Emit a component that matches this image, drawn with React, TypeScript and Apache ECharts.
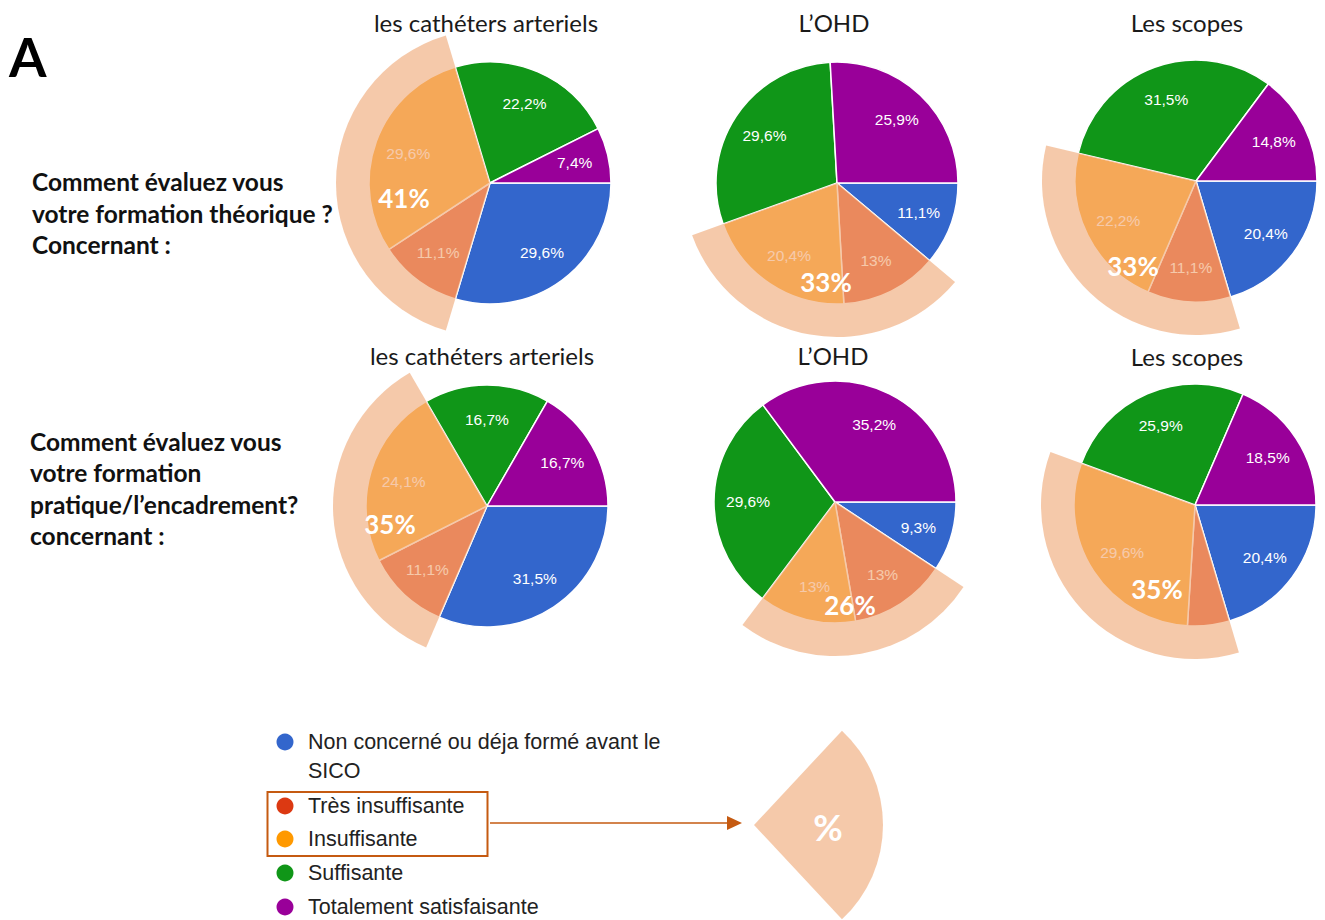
import React, { useEffect, useRef } from "react";
import * as echarts from "echarts";

// ---- Data ----
const categories = [
  "Non concerné ou déja formé avant le SICO",
  "Très insuffisante",
  "Insuffisante",
  "Suffisante",
  "Totalement satisfaisante",
];
const pieTitles = ["les cathéters arteriels", "L’OHD", "Les scopes"];
const questionTheorique = ["Comment évaluez vous", "votre formation théorique ?", "Concernant :"];
const questionPratique = ["Comment évaluez vous", "votre formation", "pratique/l’encadrement?", "concernant :"];

// values in % : [Non concerné, Très insuffisante, Insuffisante, Suffisante, Totalement satisfaisante]
const theoriqueCatheters = [29.6, 11.1, 29.6, 22.2, 7.4];
const theoriqueOHD = [11.1, 13, 20.4, 29.6, 25.9];
const theoriqueScopes = [20.4, 11.1, 22.2, 31.5, 14.8];
const pratiqueCatheters = [31.5, 11.1, 24.1, 16.7, 16.7];
const pratiqueOHD = [9.3, 13, 13, 29.6, 35.2];
const pratiqueScopes = [20.4, 5.6, 29.6, 25.9, 18.5];

// ---- Styles / layout ----
const colors = ["#3366CC", "#DC3912", "#FF9900", "#109618", "#990099"];
const OVERLAY = "rgba(240,175,130,0.68)";
const ACCENT = "#C55A11";
const HEAD_FONT = "Lato, 'Open Sans', sans-serif";
const CHART_FONT = "'Liberation Sans', Arial, sans-serif";

const pieLayout = [
  { values: theoriqueCatheters, center: [490, 183], title: [486, 22], big: [-86, 15] },
  { values: theoriqueOHD, center: [837, 183], title: [834, 22], big: [-11, 99] },
  { values: theoriqueScopes, center: [1196, 181], title: [1187, 22], big: [-63, 85] },
  { values: pratiqueCatheters, center: [487, 506], title: [482, 355], big: [-97, 18] },
  { values: pratiqueOHD, center: [835, 502], title: [833, 355], big: [15, 103] },
  { values: pratiqueScopes, center: [1195, 505], title: [1187, 356], big: [-38, 84] },
];
const R = 121;
const R_BAND = 154;
const LABEL_R0 = 47;

const fmt = (v: number) => String(v).replace(".", ",") + "%";

export default function App() {
  const ref = useRef<HTMLDivElement>(null);

  useEffect(() => {
    if (!ref.current) return;
    const chart = echarts.init(ref.current, null, { renderer: "svg" });

    const series: any[] = [];
    const graphics: any[] = [];

    pieLayout.forEach((p, i) => {
      const vals = p.values;
      // base pie
      series.push({
        type: "pie",
        name: "base" + i,
        silent: true,
        z: 1,
        center: p.center,
        radius: [0, R],
        startAngle: 0,
        clockwise: true,
        avoidLabelOverlap: false,
        label: { show: false },
        labelLine: { show: false },
        itemStyle: { borderColor: "#ffffff", borderWidth: 1.5 },
        emphasis: { disabled: true },
        data: vals.map((v, k) => ({ name: categories[k], value: v, itemStyle: { color: colors[k] } })),
      });
      // labels pie (transparent)
      series.push({
        type: "pie",
        name: "labels" + i,
        silent: true,
        z: 2,
        center: p.center,
        radius: [LABEL_R0, R],
        startAngle: 0,
        clockwise: true,
        avoidLabelOverlap: false,
        labelLine: { show: false },
        itemStyle: { color: "rgba(0,0,0,0)", borderWidth: 0 },
        emphasis: { disabled: true },
        data: vals.map((v, k) => ({
          name: categories[k],
          value: v,
          label: {
            show: v >= 6,
            position: "inside",
            formatter: () => fmt(v),
            color: "#ffffff",
            fontSize: 15.5,
            fontFamily: CHART_FONT,
          },
        })),
      });
      // overlay highlighting insufficient answers
      const insuff = vals[1] + vals[2];
      series.push({
        type: "pie",
        name: "overlay" + i,
        silent: true,
        z: 3,
        center: p.center,
        radius: [0, R_BAND],
        startAngle: 0,
        clockwise: true,
        avoidLabelOverlap: false,
        label: { show: false },
        labelLine: { show: false },
        emphasis: { disabled: true },
        data: [
          { name: "avant", value: vals[0], itemStyle: { color: "rgba(0,0,0,0)" } },
          { name: "insuffisant", value: insuff, itemStyle: { color: OVERLAY } },
          { name: "après", value: vals[3] + vals[4], itemStyle: { color: "rgba(0,0,0,0)" } },
        ],
      });
      graphics.push({
        type: "text",
        z: 10,
        x: p.center[0] + p.big[0],
        y: p.center[1] + p.big[1],
        style: {
          text: Math.round(insuff) + "%",
          fill: "#ffffff",
          font: `bold 26px ${HEAD_FONT}`,
          align: "center",
          verticalAlign: "middle",
        },
      });
      graphics.push({
        type: "text",
        z: 10,
        x: p.title[0],
        y: p.title[1],
        style: {
          text: pieTitles[i % 3],
          fill: "#1a1a1a",
          font: `24px ${HEAD_FONT}`,
          align: "center",
          verticalAlign: "middle",
        },
      });
    });

    // panel letter
    graphics.push({
      type: "text",
      x: 9,
      y: 56,
      style: { text: "A", fill: "#000", font: `bold 54px ${HEAD_FONT}`, align: "left", verticalAlign: "middle" },
    });
    // questions
    const qTop = [181, 213, 244];
    questionTheorique.forEach((t, k) =>
      graphics.push({
        type: "text",
        x: 32,
        y: qTop[k],
        style: { text: t, fill: "#111", font: `bold 24.5px ${HEAD_FONT}`, align: "left", verticalAlign: "middle" },
      })
    );
    const qBot = [441, 472, 504, 535];
    questionPratique.forEach((t, k) =>
      graphics.push({
        type: "text",
        x: 30,
        y: qBot[k],
        style: { text: t, fill: "#111", font: `bold 24.5px ${HEAD_FONT}`, align: "left", verticalAlign: "middle" },
      })
    );

    // legend
    const legendY = [742, 806, 839, 873, 907];
    categories.forEach((c, k) => {
      graphics.push({
        type: "circle",
        shape: { cx: 285, cy: legendY[k], r: 8.5 },
        style: { fill: colors[k] },
      });
      graphics.push({
        type: "text",
        x: 308,
        y: legendY[k] - 14.5,
        style: {
          text: c.replace(" SICO", "\nSICO"),
          fill: "#222",
          font: `21.5px ${CHART_FONT}`,
          lineHeight: 29,
          align: "left",
          verticalAlign: "top",
        },
      });
    });
    // box around insufficient categories
    graphics.push({
      type: "rect",
      shape: { x: 267.5, y: 792, width: 220, height: 64 },
      style: { fill: "none", stroke: ACCENT, lineWidth: 2 },
    });
    // arrow
    graphics.push({
      type: "line",
      shape: { x1: 490, y1: 823, x2: 730, y2: 823 },
      style: { stroke: ACCENT, lineWidth: 1.5 },
    });
    graphics.push({
      type: "polygon",
      shape: { points: [[727, 816], [742, 823], [727, 830]] },
      style: { fill: ACCENT },
    });
    // explanatory sector
    const half = (47 * Math.PI) / 180;
    graphics.push({
      type: "sector",
      shape: { cx: 754, cy: 825, r0: 0, r: 129, startAngle: -half, endAngle: half, clockwise: true },
      style: { fill: OVERLAY },
    });
    graphics.push({
      type: "text",
      x: 828,
      y: 827,
      style: { text: "%", fill: "#fff", font: `bold 36px ${HEAD_FONT}`, align: "center", verticalAlign: "middle" },
    });

    chart.setOption({
      animation: false,
      backgroundColor: "#ffffff",
      series,
      graphic: { elements: graphics },
    });

    return () => chart.dispose();
  }, []);

  return (
    <div
      ref={ref}
      style={{ position: "absolute", left: 0, top: 0, width: 1325, height: 920 }}
    />
  );
}
